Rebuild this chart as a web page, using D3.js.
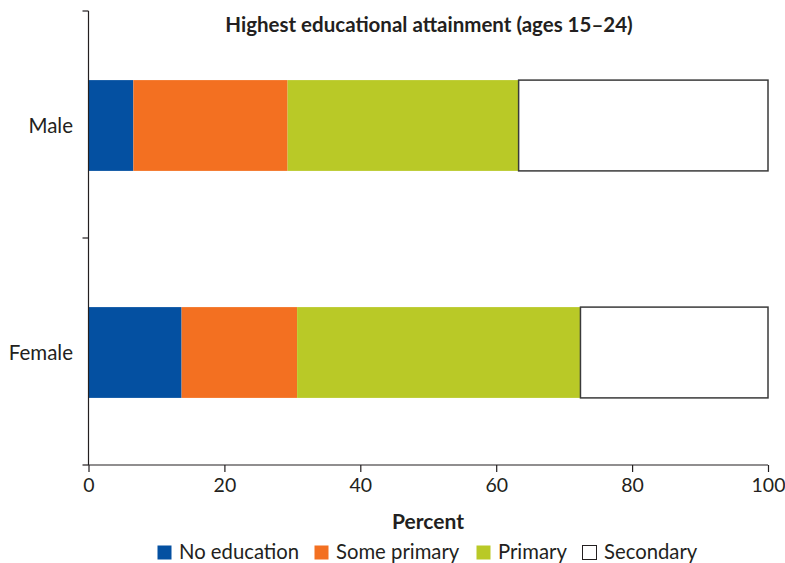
<!DOCTYPE html>
<html><head><meta charset="utf-8">
<script src="https://cdn.jsdelivr.net/npm/d3@7"></script>
<style>body{margin:0;background:#fff}text{font-family:Lato,sans-serif;fill:#231f20}</style>
</head><body><svg id="c" width="785" height="563"></svg>
<script>
const categories = ["Male", "Female"];
const seriesNames = ["No education", "Some primary", "Primary", "Secondary"];
const noEducation = [6.6, 13.7];
const somePrimary = [22.7, 17.0];
const primary = [34.0, 41.7];
const secondary = [36.7, 27.6];
const xTicks = [0, 20, 40, 60, 80, 100];
const colors = ["#0450a1", "#f37021", "#b9c927", "#ffffff"];

const svg = d3.select("#c");
const m = {left: 88.5, right: 768, top: 11, bottom: 465};
const x = d3.scaleLinear().domain([0, 100]).range([m.left, m.right]);
const y = d3.scaleBand().domain(categories).range([m.top + 1, m.bottom + 1]).paddingInner(0.6).paddingOuter(0.3);

const rows = categories.map((c, i) => ({cat: c, "No education": noEducation[i], "Some primary": somePrimary[i], "Primary": primary[i], "Secondary": secondary[i]}));
const stacked = d3.stack().keys(seriesNames)(rows);

stacked.forEach((s, si) => {
  svg.append("g").selectAll("rect").data(s).join("rect")
    .attr("x", d => x(d[0]))
    .attr("width", d => x(d[1]) - x(d[0]))
    .attr("y", d => y(d.data.cat))
    .attr("height", y.bandwidth())
    .attr("fill", colors[si])
    .attr("stroke", si === 3 ? "#3a3a3a" : "none")
    .attr("stroke-width", si === 3 ? 1.5 : 0);
});

// y axis
const yax = svg.append("g");
yax.append("line").attr("x1", m.left).attr("x2", m.left).attr("y1", m.top).attr("y2", m.bottom).attr("stroke", "#231f20").attr("stroke-width", 1.2);
const bounds = [m.top, (m.top + m.bottom) / 2, m.bottom];
yax.selectAll(".t").data(bounds).join("line").attr("x1", m.left - 6).attr("x2", m.left).attr("y1", d => d).attr("y2", d => d).attr("stroke", "#231f20").attr("stroke-width", 1.2);
yax.selectAll("text").data(categories).join("text")
  .attr("x", 73).attr("y", d => y(d) + y.bandwidth() / 2).attr("dy", "0.35em")
  .attr("text-anchor", "end").style("font-size", "20.5px").text(d => d);

// x axis
const xax = svg.append("g").attr("transform", `translate(0,${m.bottom})`)
  .call(d3.axisBottom(x).tickValues(xTicks).tickSize(7).tickPadding(6).tickSizeOuter(0));
xax.select(".domain").attr("stroke", "#231f20").attr("stroke-width", 1.2).attr("d", `M${m.left},0H${m.right}`);
xax.selectAll(".tick line").attr("stroke", "#231f20").attr("stroke-width", 1.2);
xax.selectAll(".tick text").style("font-size", "19.5px").style("font-family", "Lato,sans-serif").attr("fill", "#231f20");

svg.append("text").attr("x", 429).attr("y", 31.5).attr("text-anchor", "middle")
  .style("font-size", "20.5px").style("font-weight", "bold").text("Highest educational attainment (ages 15–24)");
svg.append("text").attr("x", 428).attr("y", 529).attr("text-anchor", "middle")
  .style("font-size", "21px").style("font-weight", "bold").text("Percent");

// legend
const legendX = [157, 314, 476, 582];
const lg = svg.append("g");
seriesNames.forEach((n, i) => {
  lg.append("rect").attr("x", legendX[i] + 0.5).attr("y", 545.5).attr("width", 14).attr("height", 14)
    .attr("fill", colors[i]).attr("stroke", i === 3 ? "#231f20" : "none");
  lg.append("text").attr("x", legendX[i] + 22).attr("y", 559).style("font-size", "20.3px").text(n);
});
</script></body></html>
